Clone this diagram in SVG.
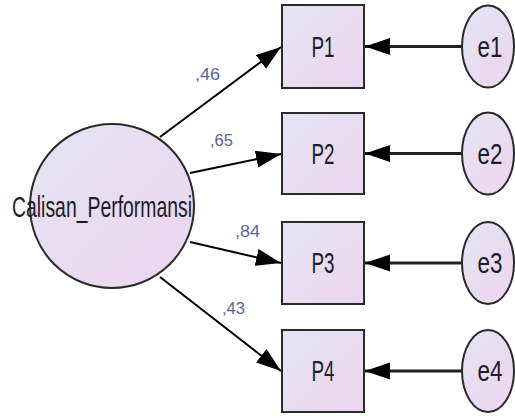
<svg xmlns="http://www.w3.org/2000/svg" width="515" height="418" viewBox="0 0 515 418">
<defs>
<linearGradient id="fill" x1="0" y1="0" x2="1" y2="1">
<stop offset="0" stop-color="#e3e5f0"/>
<stop offset="1" stop-color="#ecd5f1"/>
</linearGradient>
<marker id="ah" markerUnits="userSpaceOnUse" markerWidth="26" markerHeight="18" refX="25" refY="8.5" orient="auto" viewBox="0 0 26 18">
<path d="M0,0 L25,8.5 L0,17 z" fill="#000"/>
</marker>
</defs>
<style>
.node{fill:url(#fill);stroke:#2a2a2a;stroke-width:2}
.t{font-family:"Liberation Sans",Arial,sans-serif;font-size:29px;fill:#1c1c2c;text-anchor:middle}
.w{font-family:"Liberation Sans",Arial,sans-serif;font-size:17px;fill:#5566a0}
.c{stroke:#000;stroke-width:2;fill:none;marker-end:url(#ah)}
.ce{stroke:#222;stroke-width:3;fill:none;marker-end:url(#ah)}
</style>
<g id="connectors">
<line class="c" x1="160" y1="137" x2="281" y2="47"/>
<line class="c" x1="190" y1="173" x2="281" y2="154"/>
<line class="c" x1="190" y1="242" x2="281" y2="263"/>
<line class="c" x1="160" y1="277" x2="281" y2="371"/>
<line class="ce" x1="462" y1="46.5" x2="365" y2="46.5"/>
<line class="ce" x1="462" y1="153.5" x2="365" y2="153.5"/>
<line class="ce" x1="462" y1="263" x2="365" y2="263"/>
<line class="ce" x1="462" y1="371" x2="365" y2="371"/>
<text class="w" x="195" y="80" textLength="25" lengthAdjust="spacingAndGlyphs">,46</text>
<text class="w" x="210" y="146" textLength="23" lengthAdjust="spacingAndGlyphs">,65</text>
<text class="w" x="235" y="237" textLength="25" lengthAdjust="spacingAndGlyphs">,84</text>
<text class="w" x="222" y="314" textLength="23" lengthAdjust="spacingAndGlyphs">,43</text>
</g>
<g id="Calisan_Performansi">
<circle class="node" cx="112" cy="206" r="82"/>
<text class="t" x="102" y="217" textLength="180" lengthAdjust="spacingAndGlyphs">Calisan_Performansi</text>
</g>
<g id="P1">
<rect class="node" x="282" y="5" width="82" height="83"/>
<text class="t" x="323" y="57" textLength="23" lengthAdjust="spacingAndGlyphs">P1</text>
</g>
<g id="P2">
<rect class="node" x="282" y="113" width="82" height="81"/>
<text class="t" x="323" y="164" textLength="23" lengthAdjust="spacingAndGlyphs">P2</text>
</g>
<g id="P3">
<rect class="node" x="282" y="222" width="82" height="82"/>
<text class="t" x="323" y="273" textLength="23" lengthAdjust="spacingAndGlyphs">P3</text>
</g>
<g id="P4">
<rect class="node" x="282" y="330" width="82" height="82"/>
<text class="t" x="323" y="381" textLength="23" lengthAdjust="spacingAndGlyphs">P4</text>
</g>
<g id="e1">
<ellipse class="node" cx="488" cy="46.5" rx="26" ry="41"/>
<text class="t" x="490" y="57" textLength="25" lengthAdjust="spacingAndGlyphs">e1</text>
</g>
<g id="e2">
<ellipse class="node" cx="488" cy="153.5" rx="26" ry="41"/>
<text class="t" x="490" y="164" textLength="25" lengthAdjust="spacingAndGlyphs">e2</text>
</g>
<g id="e3">
<ellipse class="node" cx="488" cy="263" rx="26" ry="41"/>
<text class="t" x="490" y="273" textLength="25" lengthAdjust="spacingAndGlyphs">e3</text>
</g>
<g id="e4">
<ellipse class="node" cx="488" cy="371" rx="26" ry="41"/>
<text class="t" x="490" y="381" textLength="25" lengthAdjust="spacingAndGlyphs">e4</text>
</g>
</svg>
